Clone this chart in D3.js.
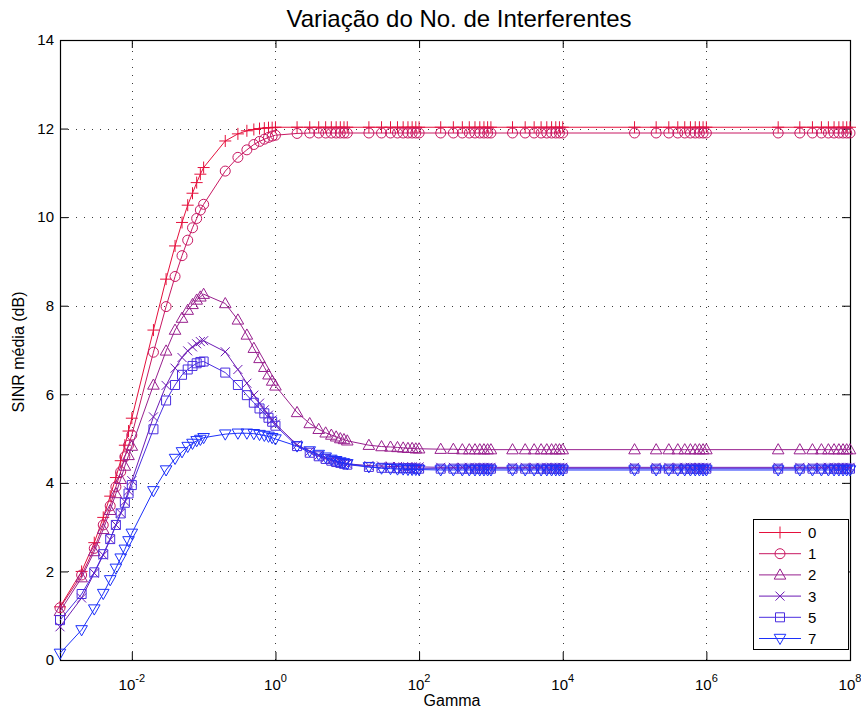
<!DOCTYPE html>
<html>
<head>
<meta charset="utf-8">
<script src="https://cdn.jsdelivr.net/npm/d3@7"></script>
<style>
  body { margin: 0; background: #fff; }
  text { font-family: "Liberation Sans", Arial, sans-serif; fill: #000; }
</style>
</head>
<body>
<div id="chart"></div>
<script>
// Gamma values (x axis, log)
var gamma = [0.001,0.002,0.003,0.004,0.005,0.006,0.007,0.008,0.009,0.01,
  0.02,0.03,0.04,0.05,0.06,0.07,0.08,0.09,0.1,
  0.2,0.3,0.4,0.5,0.6,0.7,0.8,0.9,1,
  2,3,4,5,6,7,8,9,10,
  20,30,40,50,60,70,80,90,100,
  200,300,400,500,600,700,800,900,1000,
  2000,3000,4000,5000,6000,7000,8000,9000,10000,
  1e5,2e5,3e5,4e5,5e5,6e5,7e5,8e5,9e5,1e6,
  1e7,2e7,3e7,4e7,5e7,6e7,7e7,8e7,9e7,1e8];

// SINR media (dB) for each number of interferers
var sinr0 = [1.20,2.00,2.65,3.22,3.70,4.12,4.50,4.85,5.17,5.46,
  7.45,8.60,9.35,9.88,10.27,10.54,10.78,10.97,11.12,
  11.72,11.88,11.95,11.98,12.00,12.01,12.02,12.02,12.03,
  12.03,12.03,12.03,12.03,12.03,12.03,12.03,12.03,12.03,
  12.03,12.03,12.03,12.03,12.03,12.03,12.03,12.03,12.03,
  12.03,12.03,12.03,12.03,12.03,12.03,12.03,12.03,12.03,
  12.03,12.03,12.03,12.03,12.03,12.03,12.03,12.03,12.03,
  12.03,12.03,12.03,12.03,12.03,12.03,12.03,12.03,12.03,12.03,
  12.03,12.03,12.03,12.03,12.03,12.03,12.03,12.03,12.03,12.03];
var sinr1 = [1.18,1.92,2.52,3.05,3.48,3.91,4.25,4.59,4.85,5.08,
  6.95,7.98,8.66,9.13,9.48,9.76,9.97,10.16,10.29,
  11.04,11.35,11.52,11.64,11.71,11.76,11.80,11.83,11.85,
  11.89,11.90,11.90,11.90,11.90,11.90,11.90,11.90,11.90,
  11.90,11.90,11.90,11.90,11.90,11.90,11.90,11.90,11.90,
  11.90,11.90,11.90,11.90,11.90,11.90,11.90,11.90,11.90,
  11.90,11.90,11.90,11.90,11.90,11.90,11.90,11.90,11.90,
  11.90,11.90,11.90,11.90,11.90,11.90,11.90,11.90,11.90,11.90,
  11.90,11.90,11.90,11.90,11.90,11.90,11.90,11.90,11.90,11.90];
var sinr2 = [1.10,1.86,2.45,2.95,3.38,3.76,4.08,4.38,4.62,4.83,
  6.21,6.98,7.45,7.72,7.90,8.03,8.13,8.20,8.26,
  8.05,7.68,7.34,7.04,6.81,6.61,6.44,6.30,6.19,
  5.59,5.34,5.21,5.13,5.08,5.04,5.00,4.98,4.95,
  4.85,4.82,4.81,4.80,4.79,4.78,4.78,4.77,4.77,
  4.76,4.76,4.75,4.75,4.75,4.75,4.75,4.75,4.75,
  4.75,4.75,4.75,4.75,4.75,4.75,4.75,4.75,4.75,
  4.75,4.75,4.75,4.75,4.75,4.75,4.75,4.75,4.75,4.75,
  4.75,4.75,4.75,4.75,4.75,4.75,4.75,4.75,4.75,4.75];
var sinr3 = [0.75,1.40,1.96,2.37,2.72,3.05,3.32,3.58,3.82,4.05,
  5.49,6.20,6.59,6.83,6.98,7.07,7.14,7.19,7.21,
  6.96,6.56,6.25,5.98,5.80,5.65,5.53,5.42,5.33,
  4.86,4.71,4.62,4.56,4.52,4.49,4.47,4.45,4.43,
  4.39,4.38,4.37,4.37,4.36,4.36,4.36,4.36,4.36,
  4.35,4.35,4.35,4.35,4.35,4.35,4.35,4.35,4.35,
  4.35,4.35,4.35,4.35,4.35,4.35,4.35,4.35,4.35,
  4.35,4.35,4.35,4.35,4.35,4.35,4.35,4.35,4.35,4.35,
  4.35,4.35,4.35,4.35,4.35,4.35,4.35,4.35,4.35,4.35];
var sinr5 = [0.90,1.49,1.98,2.39,2.73,3.05,3.31,3.55,3.76,3.95,
  5.21,5.86,6.21,6.44,6.56,6.64,6.70,6.73,6.74,
  6.49,6.21,5.98,5.81,5.68,5.57,5.47,5.38,5.29,
  4.83,4.68,4.60,4.54,4.50,4.47,4.45,4.43,4.41,
  4.36,4.34,4.34,4.33,4.33,4.33,4.33,4.32,4.32,
  4.32,4.32,4.32,4.32,4.32,4.32,4.32,4.32,4.32,
  4.32,4.32,4.32,4.32,4.32,4.32,4.32,4.32,4.32,
  4.32,4.32,4.32,4.32,4.32,4.32,4.32,4.32,4.32,4.32,
  4.32,4.32,4.32,4.32,4.32,4.32,4.32,4.32,4.32,4.32];
var sinr7 = [0.15,0.68,1.15,1.50,1.81,2.07,2.30,2.50,2.69,2.86,
  3.82,4.29,4.55,4.70,4.82,4.89,4.95,4.98,5.02,
  5.10,5.12,5.12,5.11,5.09,5.07,5.05,5.02,4.99,
  4.83,4.72,4.64,4.58,4.53,4.50,4.47,4.45,4.43,
  4.36,4.33,4.32,4.31,4.31,4.30,4.30,4.30,4.30,
  4.29,4.29,4.29,4.29,4.29,4.29,4.29,4.29,4.29,
  4.29,4.29,4.29,4.29,4.29,4.29,4.29,4.29,4.29,
  4.29,4.29,4.29,4.29,4.29,4.29,4.29,4.29,4.29,4.29,
  4.29,4.29,4.29,4.29,4.29,4.29,4.29,4.29,4.29,4.29];

var seriesNames = ["0", "1", "2", "3", "5", "7"];
var seriesValues = [sinr0, sinr1, sinr2, sinr3, sinr5, sinr7];
var seriesColors = ["#e5103c", "#c81862", "#98208e", "#6c1ab4", "#4a2ee0", "#1c30fa"];
var seriesMarkers = ["plus", "circle", "triUp", "cross", "square", "triDown"];

var xTicks = [1e-2, 1, 1e2, 1e4, 1e6, 1e8];
var xTickExp = ["-2", "0", "2", "4", "6", "8"];
var yTicks = [0, 2, 4, 6, 8, 10, 12, 14];

// layout
var width = 861, height = 713;
var margin = {top: 40, right: 11, bottom: 53, left: 60};
var x0 = margin.left, x1 = width - margin.right;
var y0 = height - margin.bottom, y1 = margin.top;

var svg = d3.select("#chart").append("svg")
    .attr("width", width)
    .attr("height", height);

var x = d3.scaleLog().domain([1e-3, 1e8]).range([x0, x1]);
var y = d3.scaleLinear().domain([0, 14]).range([y0, y1]);

// grid
var grid = svg.append("g")
    .attr("stroke", "#3a3a3a")
    .attr("stroke-width", 1)
    .attr("stroke-dasharray", "1,7")
    .attr("shape-rendering", "crispEdges");
grid.selectAll("line.gx").data(xTicks.slice(0, -1))
  .enter().append("line")
    .attr("x1", function(d) { return Math.round(x(d)) + 0.5; })
    .attr("x2", function(d) { return Math.round(x(d)) + 0.5; })
    .attr("y1", y0).attr("y2", y1);
grid.selectAll("line.gy").data(yTicks.slice(1, -1))
  .enter().append("line")
    .attr("y1", function(d) { return Math.round(y(d)) + 0.5; })
    .attr("y2", function(d) { return Math.round(y(d)) + 0.5; })
    .attr("x1", x0).attr("x2", x1);

// axes, ticks inward on all four sides
var tl = 8;
var gx = svg.append("g").attr("transform", "translate(0," + y0 + ")")
  .call(d3.axisBottom(x).tickValues(xTicks).tickSizeInner(-tl).tickSizeOuter(0).tickFormat(""));
var gxt = svg.append("g").attr("transform", "translate(0," + y1 + ")")
  .call(d3.axisTop(x).tickValues(xTicks).tickSizeInner(-tl).tickSizeOuter(0).tickFormat(""));
var gy = svg.append("g").attr("transform", "translate(" + x0 + ",0)")
  .call(d3.axisLeft(y).tickValues(yTicks).tickSizeInner(-tl).tickSizeOuter(0).tickPadding(6));
var gyr = svg.append("g").attr("transform", "translate(" + x1 + ",0)")
  .call(d3.axisRight(y).tickValues(yTicks).tickSizeInner(-tl).tickSizeOuter(0).tickFormat(""));

[gx, gxt, gy, gyr].forEach(function(g) {
  g.select(".domain").remove();
  g.selectAll("line").attr("stroke", "#000");
});
gy.selectAll("text")
    .style("font-size", "15px")
    .style("font-family", "Liberation Sans, Arial, sans-serif");

// x tick labels with superscript exponents
var xl = svg.append("g");
xTicks.forEach(function(t, i) {
  var txt = xl.append("text")
      .attr("x", x(t))
      .attr("y", 690)
      .attr("text-anchor", "middle")
      .style("font-size", "15px");
  txt.append("tspan").text("10");
  txt.append("tspan").attr("dy", -8).style("font-size", "11px").text(xTickExp[i]);
});

// box
svg.append("rect")
    .attr("x", x0 + 0.5).attr("y", y1 + 0.5)
    .attr("width", x1 - x0).attr("height", y0 - y1)
    .attr("fill", "none").attr("stroke", "#000").attr("stroke-width", 1.2);

// marker shapes
function markerPath(type) {
  switch (type) {
    case "plus": return "M-6,0H6M0,-6V6";
    case "cross": return "M-4.5,-4.5L4.5,4.5M-4.5,4.5L4.5,-4.5";
    case "square": return "M-4.5,-4.5H4.5V4.5H-4.5Z";
    case "triUp": return "M0,-6L5.8,4.2H-5.8Z";
    case "triDown": return "M0,6L5.8,-4.2H-5.8Z";
    case "circle": return "M5,0A5,5 0 1,1 -5,0A5,5 0 1,1 5,0Z";
  }
}

var line = d3.line()
    .x(function(d) { return x(d[0]); })
    .y(function(d) { return y(d[1]); });

var plot = svg.append("g");
seriesValues.forEach(function(vals, i) {
  var pts = gamma.map(function(g, j) { return [g, vals[j]]; });
  var g = plot.append("g");
  g.append("path")
      .datum(pts)
      .attr("d", line)
      .attr("fill", "none")
      .attr("stroke", seriesColors[i])
      .attr("stroke-width", 1);
  g.selectAll("path.m").data(pts)
    .enter().append("path")
      .attr("class", "m")
      .attr("transform", function(d) { return "translate(" + x(d[0]) + "," + y(d[1]) + ")"; })
      .attr("d", markerPath(seriesMarkers[i]))
      .attr("fill", "none")
      .attr("stroke", seriesColors[i])
      .attr("stroke-width", 1);
});

// legend
var lg = svg.append("g").attr("transform", "translate(753,519)");
lg.append("rect")
    .attr("x", 0.5).attr("y", 0.5)
    .attr("width", 95).attr("height", 130)
    .attr("fill", "#fff").attr("stroke", "#000").attr("stroke-width", 1);
seriesNames.forEach(function(name, i) {
  var ly = 13.5 + i * 21.2;
  lg.append("line")
      .attr("x1", 6).attr("x2", 48)
      .attr("y1", ly).attr("y2", ly)
      .attr("stroke", seriesColors[i]);
  lg.append("path")
      .attr("transform", "translate(27," + ly + ")")
      .attr("d", markerPath(seriesMarkers[i]))
      .attr("fill", "none")
      .attr("stroke", seriesColors[i]);
  lg.append("text")
      .attr("x", 55).attr("y", ly + 5.5)
      .style("font-size", "15px")
      .text(name);
});

// title and labels
svg.append("text")
    .attr("x", 459).attr("y", 27)
    .attr("text-anchor", "middle")
    .style("font-size", "24px")
    .text("Variação do No. de Interferentes");
svg.append("text")
    .attr("x", 452).attr("y", 706)
    .attr("text-anchor", "middle")
    .style("font-size", "16px")
    .text("Gamma");
svg.append("text")
    .attr("transform", "translate(24,352)rotate(-90)")
    .attr("text-anchor", "middle")
    .style("font-size", "16px")
    .text("SINR média (dB)");
</script>
</body>
</html>
